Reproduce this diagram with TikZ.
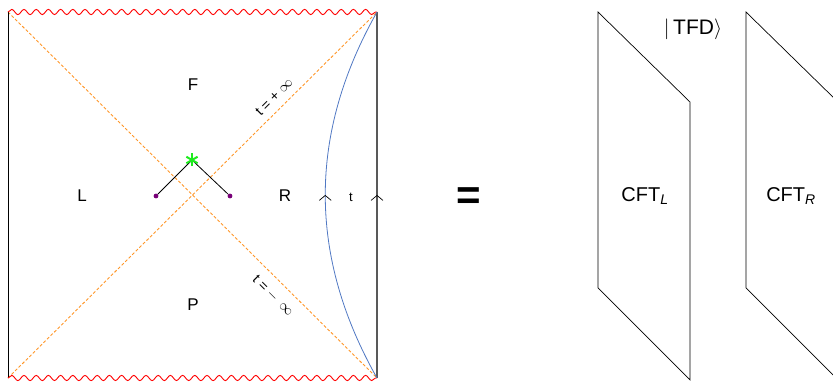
\documentclass[tikz,border=0pt]{standalone}
\usepackage{fontspec}
\setmainfont{Liberation Sans}
\usetikzlibrary{decorations.pathmorphing,decorations.markings,arrows.meta}

\definecolor{horizoncol}{RGB}{255,150,40}
\definecolor{bluecurve}{RGB}{80,120,195}
\definecolor{dotcol}{RGB}{120,0,120}
\definecolor{starcol}{RGB}{30,235,30}

\tikzset{
  horizon/.style={draw=horizoncol, dash pattern=on 3pt off 2pt, line width=0.9pt},
  singular/.style={draw=red, line width=0.9pt, decorate,
    decoration={snake, segment length=12.2pt, amplitude=2.6pt}},
  uparrow/.style={postaction={decorate}, decoration={markings,
    mark=at position 0.5 with {\arrow[black, line width=0.7pt]{Straight Barb[length=5pt,width=12pt]}}}},
  region/.style={font=\fontsize{17}{20}\selectfont},
  dot/.style={circle, fill=dotcol, inner sep=1.7pt},
}

\begin{document}
\begin{tikzpicture}[x=1pt,y=-1pt]
    \useasboundingbox (0,0) rectangle (833,385);

    % Penrose diagram
    \coordinate (TL) at (8,12);
    \coordinate (TR) at (377,12);
    \coordinate (BL) at (8,378);
    \coordinate (BR) at (377,378);

    \path[horizon]
    (TL) edge (BR)
    (BL) edge (TR);
    \draw[line width=0.7pt] (BL) -- (TL);
    \draw[line width=1.1pt, black!65, uparrow] (BR) -- (TR);
    \draw[singular] (TL) -- (TR);
    \draw[singular] (BL) -- (BR);
    \draw[bluecurve, line width=0.8pt, uparrow] (BR) .. controls (308,256) and (308,134) .. (TR);

    \node[region] (F) at (193,85) {F};
    \node[region] (L) at (82,196) {L};
    \node[region] (R) at (285,196) {R};
    \node[region] (P) at (193,305) {P};
    \node[font=\fontsize{13}{15}\selectfont] (t) at (351,197) {t};
    \node[font=\fontsize{14}{16}\selectfont, rotate=45] (tplus) at (274,97) {t = + $\infty$};
    \node[font=\fontsize{14}{16}\selectfont, rotate=-45] (tminus) at (273,296) {t = $-$\, $\infty$};

    \coordinate (star) at (192,160);
    \node[dot] (dl) at (156,196) {};
    \node[dot] (dr) at (230,196) {};
    \path[draw, line width=0.8pt]
    (dl) edge (star)
    (dr) edge (star);
    \foreach \a in {90,30,-30}
      \draw[starcol, line width=2pt] (star) ++(\a:6.5) -- ++(\a+180:13);

    \node[font=\fontsize{42}{44}\selectfont\bfseries] (eq) at (469,199) {=};

    % the two boundaries
    \draw[line width=0.7pt] (598,12) -- (690,102) -- (690,380) -- (598,288) -- cycle;
    \draw[line width=0.7pt] (746,12) -- (838,102) -- (838,380) -- (746,288) -- cycle;
    \node[font=\fontsize{20}{24}\selectfont] (cftl) at (645,196) {CFT\textsubscript{\textit{L}}};
    \node[font=\fontsize{20}{24}\selectfont] (cftr) at (791,196) {CFT\textsubscript{\textit{R}}};
    \node[font=\fontsize{21}{24}\selectfont] (tfd) at (693,29) {$\bigg|$\,TFD$\bigg\rangle$};
\end{tikzpicture}
\end{document}
